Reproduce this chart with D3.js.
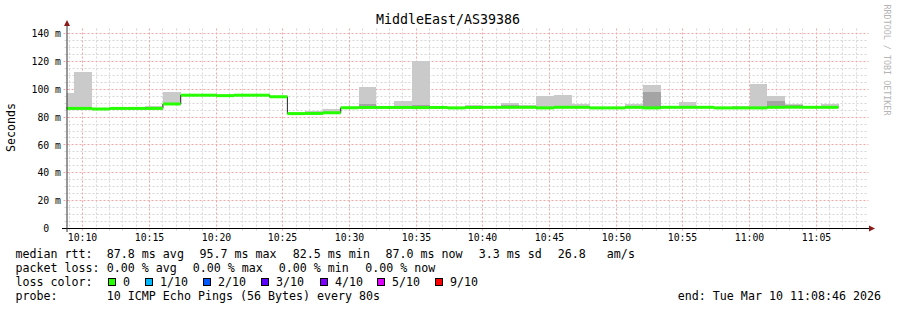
<!DOCTYPE html>
<html>
<head>
<meta charset="utf-8">
<script src="https://cdn.jsdelivr.net/npm/d3@7"></script>
<style>
    body { margin: 0; background: #fff; }
    text { font-family: "DejaVu Sans Mono", monospace; fill: #000; white-space: pre; }
</style>
</head>
<body>
<svg id="chart" width="897" height="310"></svg>
<script>
// ---- data ----
const title = "MiddleEast/AS39386";
const timeStart = "2026-03-10T10:08:46";
const timeEnd = "2026-03-10T11:08:46";
const firstBucket = "2026-03-10T10:08:00";   // 80 s consolidation steps
const stepSeconds = 80;

// median rtt per step (ms)
const medians = [
    86.2, 86.2, 85.8, 86.2, 86.2, 86.2, 89.4, 95.7, 95.7, 95.4,
    95.7, 95.7, 94.6, 82.5, 82.6, 83.1, 86.7, 86.9, 86.9, 86.9,
    86.8, 86.9, 86.6, 86.9, 87.0, 87.0, 87.0, 86.6, 87.0, 87.0,
    86.6, 86.6, 87.0, 86.6, 87.0, 87.0, 87.0, 86.6, 86.6, 86.6,
    87.0, 87.1, 87.0, 87.0
];
// top of the outer smoke band (slowest ping), null = hidden under the median
const smokeMax = [
    97.1, 112.2, null, null, null, 88.0, 98.1, null, null, null,
    null, null, null, null, 84.4, 85.6, null, 101.4, null, 91.4,
    120.1, null, null, 88.5, 88.0, 90.0, 88.5, 95.0, 95.7, 89.2,
    null, null, 89.5, 102.9, null, 90.7, null, null, 88.3, 103.6,
    95.0, 89.5, 88.0, 89.5
];
// top of the inner (darker) smoke band
const smokeInner = [
    null, null, null, null, null, null, null, null, null, null,
    null, null, null, null, null, null, null, 89.7, null, null,
    88.5, null, null, null, null, 89.0, null, null, null, null,
    null, null, null, 97.9, null, null, null, null, null, null,
    91.4, 88.5, null, null
];

const yTicks = [0, 20, 40, 60, 80, 100, 120, 140];

const statRows = [
    { label: "median rtt:", items: [
        ["87.8 ms avg", 106.8], ["95.7 ms max", 199.5], ["82.5 ms min", 292.8],
        ["87.0 ms now", 385.5], ["3.3 ms sd", 478.8], ["26.8   am/s", 557.8]] },
    { label: "packet loss:", items: [
        ["0.00 % avg", 106.8], ["0.00 % max", 192.8], ["0.00 % min", 278.8], ["0.00 % now", 365.2]] }
];
const lossLabels = ["0", "1/10", "2/10", "3/10", "4/10", "5/10", "9/10"];
const lossColors = ["#26ff00", "#00b8ff", "#0059ff", "#5e00ff", "#7e00ff", "#dd00ff", "#ff0000"];
const lossBoxX = [108.5, 145.5, 203.5, 261.5, 320.5, 377.5, 435.5];
const probeText = "10 ICMP Echo Pings (56 Bytes) every 80s";
const endText = "end: Tue Mar 10 11:08:46 2026";

// ---- layout ----
const svg = d3.select("#chart");
const plotLeft = 66.5, plotRight = 866.5, plotBottom = 228.5, plotTop = 28.5;

const x = d3.scaleTime()
            .domain([new Date(timeStart), new Date(timeEnd)])
            .range([plotLeft, plotRight]);
const y = d3.scaleLinear()
            .domain([0, 140])
            .range([plotBottom, 33.5]);

const px = v => Math.floor(v) + 0.5;   // snap to pixel centre

// buckets
const t0 = new Date(firstBucket).getTime();
const buckets = medians.map((m, i) => ({
    start: new Date(t0 + i * stepSeconds * 1000),
    end: new Date(t0 + (i + 1) * stepSeconds * 1000),
    median: m,
    max: smokeMax[i],
    inner: smokeInner[i]
}));

// grid
const grid = svg.append("g");
const minorColor = "#d6d6d6", majorColor = "#f2a6a6";
const minorTimes = x.ticks(d3.timeMinute.every(1));
const majorTimes = x.ticks(d3.timeMinute.every(5));
const isMajor = t => t.getMinutes() % 5 === 0;

minorTimes.filter(t => !isMajor(t)).forEach(t => {
    grid.append("line")
        .attr("x1", px(x(t))).attr("x2", px(x(t)))
        .attr("y1", plotTop).attr("y2", plotBottom + 2)
        .attr("stroke", minorColor).attr("stroke-dasharray", "2,2");
});
d3.range(5, 145, 5).filter(v => v % 20 !== 0).forEach(v => {
    grid.append("line")
        .attr("x1", plotLeft - 2).attr("x2", plotRight + 2)
        .attr("y1", px(y(v))).attr("y2", px(y(v)))
        .attr("stroke", minorColor).attr("stroke-dasharray", "2,2");
});
majorTimes.forEach(t => {
    grid.append("line")
        .attr("x1", px(x(t))).attr("x2", px(x(t)))
        .attr("y1", plotTop).attr("y2", plotBottom + 3)
        .attr("stroke", majorColor).attr("stroke-dasharray", "2,2");
});
yTicks.filter(v => v > 0).forEach(v => {
    grid.append("line")
        .attr("x1", plotLeft - 3).attr("x2", plotRight + 2)
        .attr("y1", px(y(v))).attr("y2", px(y(v)))
        .attr("stroke", majorColor).attr("stroke-dasharray", "2,2");
});

// clip to plot
svg.append("clipPath").attr("id", "plot")
   .append("rect").attr("x", plotLeft).attr("y", plotTop)
   .attr("width", plotRight - plotLeft).attr("height", plotBottom - plotTop);
const plot = svg.append("g").attr("clip-path", "url(#plot)");

// smoke
plot.selectAll("rect.smoke")
    .data(buckets.filter(d => d.max !== null))
    .join("rect")
    .attr("class", "smoke")
    .attr("x", d => x(d.start))
    .attr("width", d => x(d.end) - x(d.start))
    .attr("y", d => y(d.max))
    .attr("height", d => y(d.median) - y(d.max))
    .attr("fill", "#cacaca")
    .attr("shape-rendering", "crispEdges");

plot.selectAll("rect.inner")
    .data(buckets.filter(d => d.inner !== null))
    .join("rect")
    .attr("class", "inner")
    .attr("x", d => x(d.start))
    .attr("width", d => x(d.end) - x(d.start))
    .attr("y", d => y(d.inner))
    .attr("height", d => y(d.median) - y(d.inner))
    .attr("fill", "#a4a4a4")
    .attr("shape-rendering", "crispEdges");

// median line (dark) under the loss-coloured band
const steps = buckets.map(d => [d.start, d.median]);
steps.push([buckets[buckets.length - 1].end, buckets[buckets.length - 1].median]);
plot.append("path")
    .datum(steps)
    .attr("d", d3.line().x(d => x(d[0])).y(d => y(d[1])).curve(d3.curveStepAfter))
    .attr("fill", "none")
    .attr("stroke", "#202020")
    .attr("stroke-width", 1);

plot.selectAll("rect.med")
    .data(buckets)
    .join("rect")
    .attr("class", "med")
    .attr("x", d => x(d.start))
    .attr("width", d => x(d.end) - x(d.start))
    .attr("y", d => y(d.median) - 1.5)
    .attr("height", 3)
    .attr("fill", lossColors[0]);

// axes
svg.append("line")
   .attr("x1", 62).attr("x2", 870).attr("y1", plotBottom).attr("y2", plotBottom)
   .attr("stroke", "#000");
svg.append("line")
   .attr("x1", 67).attr("x2", 67).attr("y1", 232).attr("y2", 24)
   .attr("stroke", "#333");
svg.append("path").attr("d", "M67,20 L64,26 L70,26 Z").attr("fill", "#8b1a1a");
svg.append("path").attr("d", "M875,228.5 L869,225.5 L869,231.5 Z").attr("fill", "#8b1a1a");

// tick labels
svg.selectAll("text.ylab")
   .data(yTicks)
   .join("text")
   .attr("class", "ylab")
   .attr("x", d => d === 0 ? 61 - 2 * 5.9 : 61)
   .attr("y", d => y(d) + 3.6)
   .attr("text-anchor", "end")
   .style("font-size", "9.8px")
   .text(d => d === 0 ? "0" : d + " m");

svg.selectAll("text.xlab")
   .data(majorTimes)
   .join("text")
   .attr("class", "xlab")
   .attr("x", d => px(x(d)))
   .attr("y", 241)
   .attr("text-anchor", "middle")
   .style("font-size", "9.8px")
   .text(d3.timeFormat("%H:%M"));

// title and axis label
svg.append("text")
   .attr("x", 448).attr("y", 24)
   .attr("text-anchor", "middle")
   .style("font-size", "13.3px")
   .text(title);

svg.append("text")
   .attr("transform", "translate(15,127.5) rotate(-90)")
   .attr("text-anchor", "middle")
   .style("font-size", "11.6px")
   .text("Seconds");

svg.append("text")
   .attr("transform", "translate(884,4.5) rotate(90)")
   .style("font-size", "8.4px")
   .style("fill", "#b4b4b4")
   .text("RRDTOOL / TOBI OETIKER");

// legend
const legendSize = "11.65px";
const rowY = [258.3, 272.3, 286.3, 300.3];
statRows.forEach((row, r) => {
    svg.append("text").attr("x", 15.5).attr("y", rowY[r]).style("font-size", legendSize).text(row.label);
    row.items.forEach(([s, xp]) => {
        svg.append("text").attr("x", xp).attr("y", rowY[r]).style("font-size", legendSize).text(s);
    });
});

svg.append("text").attr("x", 15.5).attr("y", rowY[2]).style("font-size", legendSize).text("loss color:");
lossLabels.forEach((lab, i) => {
    svg.append("rect")
       .attr("x", lossBoxX[i]).attr("y", 278.5)
       .attr("width", 7).attr("height", 7)
       .attr("fill", lossColors[i]).attr("stroke", "#000");
    svg.append("text")
       .attr("x", lossBoxX[i] + 14.5).attr("y", rowY[2])
       .style("font-size", legendSize).text(lab);
});

svg.append("text").attr("x", 15.5).attr("y", rowY[3]).style("font-size", legendSize).text("probe:");
svg.append("text").attr("x", 106.8).attr("y", rowY[3]).style("font-size", legendSize).text(probeText);
svg.append("text").attr("x", 677.8).attr("y", rowY[3]).style("font-size", legendSize).text(endText);
</script>
</body>
</html>
